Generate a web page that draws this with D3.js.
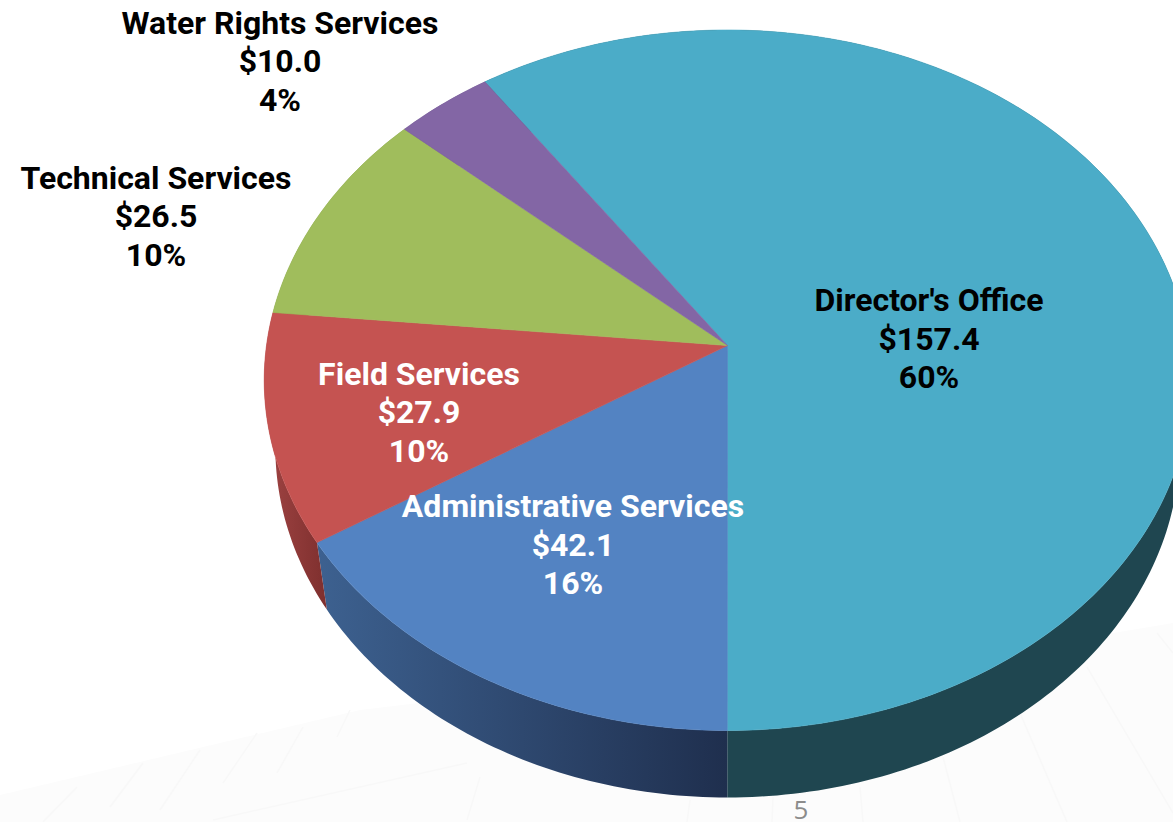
<!DOCTYPE html>
<html>
<head>
<meta charset="utf-8">
<title>Budget by division</title>
<script src="https://cdn.jsdelivr.net/npm/d3@7"></script>
<style>
    html, body { margin: 0; padding: 0; background: #fff; overflow: hidden; }
    svg { display: block; }
    .label { font-family: Roboto, sans-serif; font-weight: 700; font-size: 32px; text-anchor: middle; }
    .page-number { font-family: "Open Sans", sans-serif; font-size: 26px; fill: #8c8c8c; text-anchor: middle; }
</style>
</head>
<body>
<div id="chart"></div>
<script>
// values, clockwise from the top slice
var divisions = ["Director's Office", "Administrative Services", "Field Services", "Technical Services", "Water Rights Services"];
var amounts = [157.4, 42.1, 27.9, 26.5, 10.0];
var shares = ["60%", "16%", "10%", "10%", "4%"];

var topColors = ["#4bacc8", "#5383c2", "#c55351", "#a0bd5c", "#8366a5"];
var wallLeft = ["#1f4650", "#3d6190", "#a04443", "#6f8440", "#5a4672"];
var wallRight = ["#1f4650", "#1f2f4e", "#7e2f2e", "#6f8440", "#5a4672"];
var labelColors = ["#000", "#fff", "#fff", "#000", "#000"];

// centre of each label block and baseline of its first line
var labelX = [929, 573, 419, 156, 280];
var labelY = [311, 517, 384.5, 188.5, 33.5];
var lineStep = 38.5;

var width = 1173, height = 822;

// the pie lies on a tilted plane, so the apex sits above the ellipse centre
var apexX = 727.5, apexY = 345.5;
var radiusX = 461, radiusY = 346.8, tilt = 0.0992;
var depth = 67, bottomScaleX = 0.976;

var svg = d3.select("#chart").append("svg")
    .attr("width", width)
    .attr("height", height);

var defs = svg.append("defs");

drawFloor();

var pie = d3.pie()
    .sort(null)
    .startAngle(-0.6055)
    .endAngle(-0.6055 + 2 * Math.PI);

var slices = pie(amounts);

var project = function(angle, isBottom) {
    var u = Math.sin(angle), v = -Math.cos(angle);
    var w = 1 - tilt * v;
    var x = radiusX * u / w, y = radiusY * v / w;
    if (isBottom) {
        return [apexX + x * bottomScaleX, apexY + depth + y];
    }
    return [apexX + x, apexY + y];
};

var rim = function(slice, isBottom) {
    var steps = Math.ceil((slice.endAngle - slice.startAngle) * 60);
    return d3.range(steps + 1).map(function(i) {
        return project(slice.startAngle + (slice.endAngle - slice.startAngle) * i / steps, isBottom);
    });
};

var line = d3.line();

// side walls first, the top faces cover what should be hidden
slices.forEach(function(slice, i) {
    var top = rim(slice, false), bottom = rim(slice, true).reverse();
    var xs = d3.extent(top.concat(bottom), function(p) { return p[0]; });

    var gradient = defs.append("linearGradient")
        .attr("id", "wall-" + i)
        .attr("gradientUnits", "userSpaceOnUse")
        .attr("x1", xs[0]).attr("x2", xs[1])
        .attr("y1", 0).attr("y2", 0);
    gradient.append("stop").attr("offset", 0).attr("stop-color", wallLeft[i]);
    gradient.append("stop").attr("offset", 1).attr("stop-color", wallRight[i]);

    svg.append("path")
        .attr("class", "wall")
        .attr("d", line(top.concat(bottom)) + "Z")
        .attr("fill", "url(#wall-" + i + ")");
});

// thin stroke in the slice's own colour hides the antialiasing seam between slices
svg.selectAll("path.face")
    .data(slices)
    .enter().append("path")
    .attr("class", "face")
    .attr("d", function(d) {
        return line([[apexX, apexY]].concat(rim(d, false))) + "Z";
    })
    .attr("fill", function(d, i) { return topColors[i]; })
    .attr("stroke", function(d, i) { return topColors[i]; })
    .attr("stroke-width", 0.6);

var labels = svg.selectAll("text.label")
    .data(divisions)
    .enter().append("text")
    .attr("class", "label")
    .attr("fill", function(d, i) { return labelColors[i]; });

labels.each(function(d, i) {
    var rows = [d, "$" + amounts[i].toFixed(1), shares[i]];
    d3.select(this).selectAll("tspan")
        .data(rows)
        .enter().append("tspan")
        .attr("x", labelX[i])
        .attr("y", function(r, j) { return labelY[i] + j * lineStep; })
        .text(function(r) { return r; });
});

svg.append("text")
    .attr("class", "page-number")
    .attr("x", 801)
    .attr("y", 819)
    .text("5");

// very faint slide background behind the chart
function drawFloor() {
    var outline = [[0, 795], [360, 710], [700, 670], [1000, 640], [1113, 633], [1173, 623], [1173, 822], [0, 822]];
    svg.append("path")
        .attr("d", d3.line()(outline) + "Z")
        .attr("fill", "#fcfcfc");

    var rays = [
        [[77, 787], [43, 822]], [[143, 763], [110, 807]], [[200, 750], [160, 810]], [[257, 733], [223, 783]],
        [[303, 727], [277, 773]], [[350, 710], [337, 737]], [[213, 820], [467, 763]], [[480, 777], [467, 820]],
        [[690, 800], [687, 822]], [[773, 797], [772, 822]], [[860, 787], [863, 822]],
        [[943, 757], [960, 822]], [[1020, 713], [1067, 822]], [[1087, 667], [1173, 813]], [[1157, 633], [1173, 653]]
    ];
    svg.selectAll("path.ray")
        .data(rays)
        .enter().append("path")
        .attr("class", "ray")
        .attr("d", function(d) { return d3.line()(d); })
        .attr("stroke", "#f8f8f8")
        .attr("stroke-width", 1.5)
        .attr("fill", "none");
}
</script>
</body>
</html>
